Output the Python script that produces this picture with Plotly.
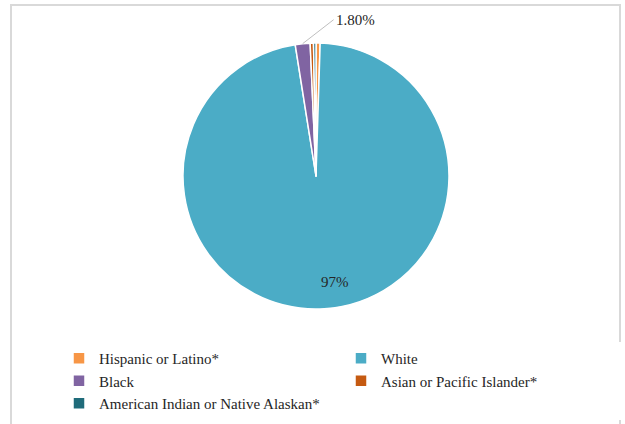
import math
import plotly.graph_objects as go

categories = ["Hispanic or Latino*", "White", "Black", "Asian or Pacific Islander*",
              "American Indian or Native Alaskan*"]
values = [0.5, 97.0, 1.8, 0.4, 0.3]
labels_shown = ["", "97%", "1.80%", "", ""]
colors = ["#F79646", "#4BACC6", "#8064A2", "#C55A11", "#1F6B7A"]

W, H = 625, 424
cx, cy, r = 316, 176, 133
FONT = "Liberation Serif"

fig = go.Figure()
fig.add_trace(go.Pie(
    labels=categories,
    values=values,
    textinfo="none",
    sort=False,
    direction="clockwise",
    rotation=0,
    marker=dict(colors=colors, line=dict(color="white", width=1.5)),
    domain=dict(x=[(cx - r) / W, (cx + r) / W], y=[1 - (cy + r) / H, 1 - (cy - r) / H]),
    hoverinfo="label+percent",
    showlegend=True,
))

total = sum(values)


def slice_point(i, frac_r):
    before = sum(values[:i])
    mid = (before + values[i] / 2) / total * 2 * math.pi
    return (cx + frac_r * r * math.sin(mid)) / W, 1 - (cy - frac_r * r * math.cos(mid)) / H


# inside label for White
x1, y1 = slice_point(1, 0.8)
fig.add_annotation(
    x=x1, y=y1, xref="paper", yref="paper", text=labels_shown[1], showarrow=False,
    xshift=12, font=dict(family=FONT, size=15, color="#262626"),
)

# leader label for Black
x2, y2 = slice_point(2, 1.0)
fig.add_annotation(
    x=x2, y=y2, xref="paper", yref="paper",
    text=labels_shown[2], showarrow=True, arrowhead=0, arrowwidth=1,
    arrowcolor="#BFBFBF", ax=31, ay=-24, xanchor="left",
    font=dict(family=FONT, size=15, color="#262626"),
)

fig.add_shape(type="rect", xref="paper", yref="paper",
              x0=11 / W, x1=620 / W, y0=-0.05, y1=1 - 5 / H,
              line=dict(color="#D9D9D9", width=2))

fig.update_layout(
    width=W, height=H,
    margin=dict(l=0, r=0, t=0, b=0, autoexpand=False),
    paper_bgcolor="white",
    plot_bgcolor="white",
    font=dict(family=FONT, size=15, color="#262626"),
    legend=dict(
        orientation="h", x=59 / W, y=1 - 342 / H, xanchor="left", yanchor="top",
        entrywidth=237, entrywidthmode="pixels",
        font=dict(family=FONT, size=15, color="#262626"),
        traceorder="normal",
    ),
)

fig.write_html(
    "out.html",
    config={"displayModeBar": False},
    post_script="document.body.style.margin='0';document.body.style.overflow='hidden';",
)
